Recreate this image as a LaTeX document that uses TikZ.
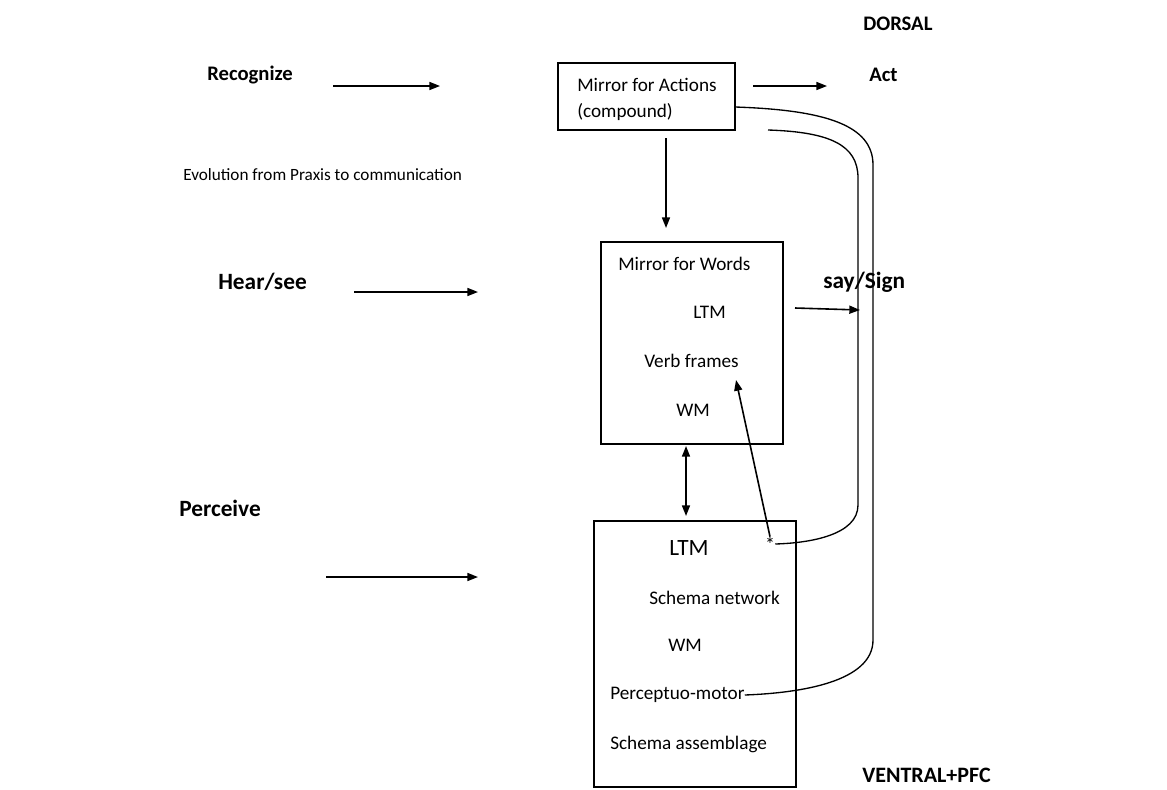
\documentclass[tikz,border=0pt]{standalone}
\usepackage{fontspec}
\setmainfont{Carlito}
\usetikzlibrary{arrows.meta}
\begin{document}
\begin{tikzpicture}[x=0.75pt,y=-0.75pt,
    box/.style={draw,line width=1pt,inner sep=0pt},
    lbl/.style={font=\bfseries\fontsize{15.5}{18}\selectfont,inner sep=0pt,anchor=west},
    biglbl/.style={font=\bfseries\fontsize{17.5}{20}\selectfont,inner sep=0pt,anchor=west},
    txt/.style={font=\fontsize{14.4}{17}\selectfont,inner sep=0pt,anchor=west},
    arr/.style={-{Triangle[length=8pt,width=6pt]},line width=1.2pt},
    wire/.style={line width=1pt}]
    \useasboundingbox (0,0) rectangle (1167,789);

    % Mirror for Actions
    \node (mact) [box,minimum width=132.75pt,minimum height=50.25pt] at (646.5,96.5) {};
    \node (mact1) [txt] at (577,85) {Mirror for Actions};
    \node (mact2) [txt] at (577,112) {(compound)};

    % Mirror for Words
    \node (mwrd) [box,minimum width=136.5pt,minimum height=151.5pt] at (692,343) {};
    \node (mwrd1) [txt] at (618,264) {Mirror for Words};
    \node (mwrd2) [txt] at (693,312) {LTM};
    \node (mwrd3) [txt] at (644,361) {Verb frames};
    \node (mwrd4) [txt] at (676,410) {WM};

    % LTM
    \node (ltm) [box,minimum width=151.5pt,minimum height=199.5pt] at (695,654) {};
    \node (ltm1) [txt,font=\fontsize{17.5}{20}\selectfont] at (669,548) {LTM};
    \node (ltm2) [txt] at (649,598) {Schema network};
    \node (ltm3) [txt] at (668,645) {WM};
    \node (ltm4) [txt] at (610,695) {Perceptuo-motor};
    \node (ltm5) [txt] at (610,744) {Schema assemblage};
    \node (star) [inner sep=0pt,font=\fontsize{15}{17}\selectfont] at (770,544) {*};

    % labels
    \node (dorsal) [lbl] at (863,24) {DORSAL};
    \node (recog) [lbl] at (207,75) {Recognize};
    \node (act) [lbl] at (869,75) {Act};
    \node (evol) [txt,font=\fontsize{12.9}{15}\selectfont] at (183,175) {Evolution from Praxis to communication};
    \node (hear) [biglbl] at (218,282) {Hear/see};
    \node (say) [biglbl] at (823,282) {say/Sign};
    \node (perc) [biglbl] at (179,508) {Perceive};
    \node (ventral) [lbl,font=\bfseries\fontsize{16.5}{19}\selectfont] at (862,775) {VENTRAL+PFC};

    % free ends
    \coordinate (r1) at (333,86);  \coordinate (r2) at (440,86);
    \coordinate (a1) at (753,86);  \coordinate (a2) at (827,86);
    \coordinate (d1) at (666,138); \coordinate (d2) at (666,228);
    \coordinate (h1) at (354,292); \coordinate (h2) at (478,292);
    \coordinate (s1) at (795,308); \coordinate (s2) at (860,310);
    \coordinate (p1) at (326,577); \coordinate (p2) at (478,577);
    \coordinate (v1) at (686,446); \coordinate (v2) at (686,516);
    \coordinate (vf) at (736,380);
    \coordinate (o1) at (735,107);
    \coordinate (i1) at (768,130);

    \draw[arr] (r1) -- (r2);
    \draw[arr] (a1) -- (a2);
    \draw[arr] (d1) -- (d2);
    \draw[arr] (h1) -- (h2);
    \draw[arr] (s1) -- (s2);
    \draw[arr] (p1) -- (p2);
    \draw[arr,{Triangle[length=8pt,width=6pt]}-{Triangle[length=8pt,width=6pt]}] (v1) -- (v2);
    \draw[arr] (star.north) -- (vf);

    % loops back
    \draw[wire] (o1) .. controls (825,110) and (873,125) .. (873,165) -- (873,640)
        .. controls (873,682) and (800,693) .. (ltm4.east);
    \draw[wire] (i1) .. controls (830,132) and (858,145) .. (858,178) -- (858,505)
        .. controls (858,535) and (810,543) .. (star.east);
\end{tikzpicture}
\end{document}
